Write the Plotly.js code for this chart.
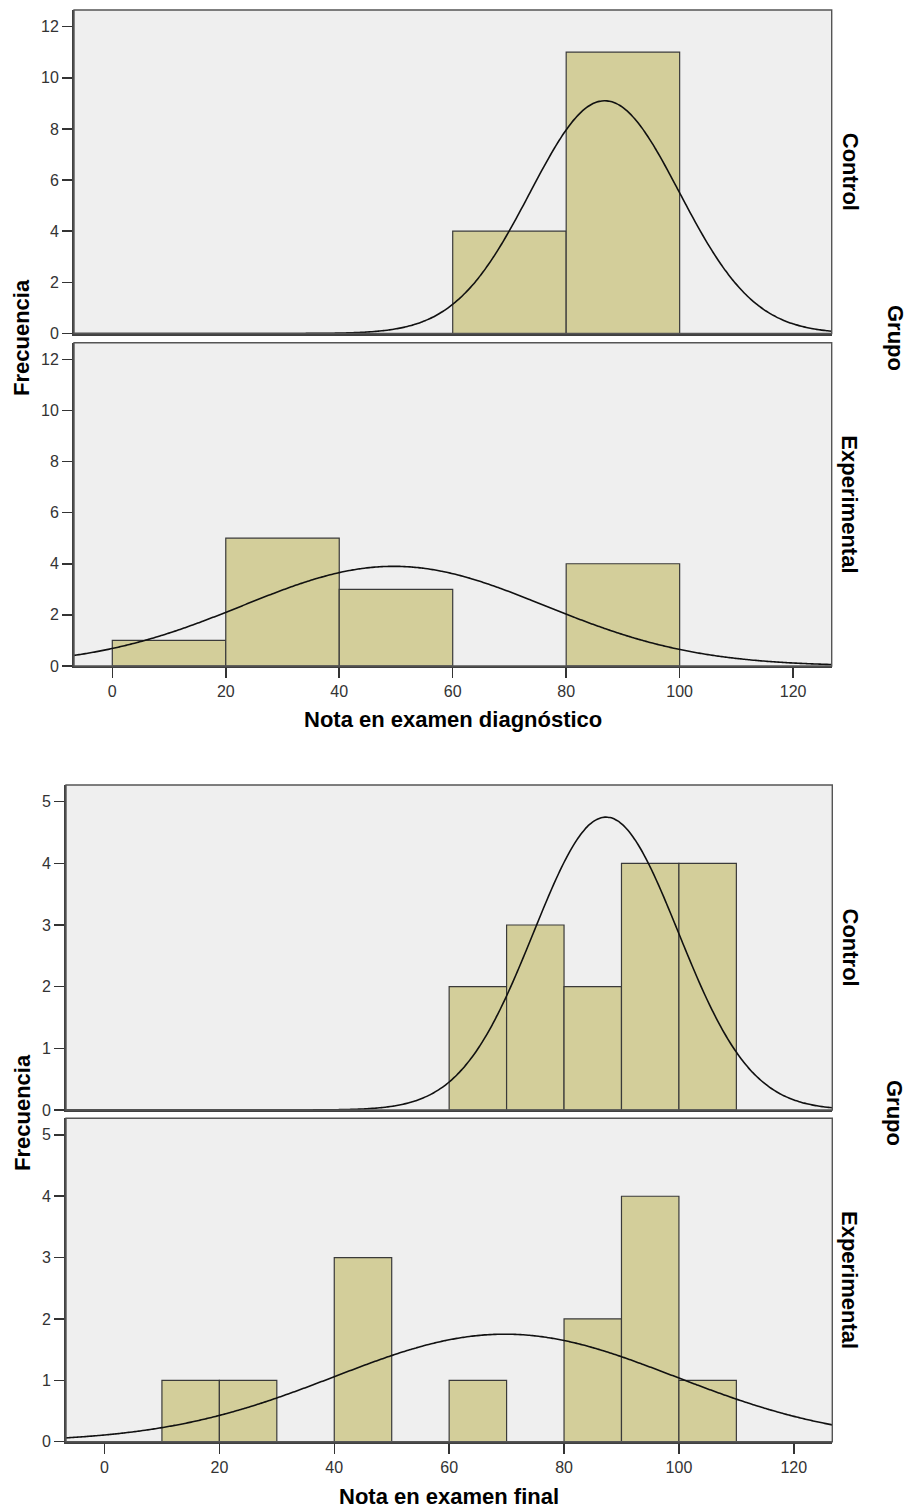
<!DOCTYPE html>
<html>
<head>
<meta charset="utf-8">
<script src="https://cdn.plot.ly/plotly-3.0.1.min.js"></script>
<style>html,body{margin:0;padding:0;background:#fff;}#chart{width:908px;height:1511px;}</style>
</head>
<body>
<div id="chart"></div>
<script>
// ---- Data ----
// Nota en examen diagnóstico (bin width 20)
const diagBinWidth = 20;
const diagControlBinStart = [60, 80];
const diagControlCount = [4, 11];
const diagExpBinStart = [0, 20, 40, 80];
const diagExpCount = [1, 5, 3, 4];
// normal curve parameters [mean, sd, n]
const diagControlNormal = [86.8, 13.15, 15];
const diagExpNormal = [49.6, 26.6, 13];

// Nota en examen final (bin width 10)
const finalBinWidth = 10;
const finalControlBinStart = [60, 70, 80, 90, 100];
const finalControlCount = [2, 3, 2, 4, 4];
const finalExpBinStart = [10, 20, 40, 60, 80, 90, 100];
const finalExpCount = [1, 1, 3, 1, 2, 4, 1];
const finalControlNormal = [87.3, 12.6, 15];
const finalExpNormal = [69.7, 29.6, 13];

const xTickVals = [0, 20, 40, 60, 80, 100, 120];
const diagYTicks = [0, 2, 4, 6, 8, 10, 12];
const finalYTicks = [0, 1, 2, 3, 4, 5];

const groupLabels = ['Control', 'Experimental'];
const yTitle = 'Frecuencia';
const groupTitle = 'Grupo';
const diagTitle = 'Nota en examen diagnóstico';
const finalTitle = 'Nota en examen final';

// ---- Layout geometry (pixels) ----
const W = 908, H = 1511;
const diagXRange = [-6.75, 126.8];
const finalXRange = [-6.7, 126.7];
const diagYRange = [0, 12.65];
const finalYRange = [0, 5.27];

const BAR_FILL = '#d3ce9a';
const EDGE = '#3a3a3a';

function barTrace(starts, counts, w, xa, ya) {
  return {
    type: 'bar', xaxis: xa, yaxis: ya,
    x: starts.map(s => s + w / 2), y: counts,
    width: starts.map(() => w),
    marker: {color: BAR_FILL, line: {color: EDGE, width: 1.2}},
    hoverinfo: 'skip', showlegend: false
  };
}
function curveTrace(p, w, range, xa, ya) {
  const [mu, sd, n] = p;
  const xs = [], ys = [];
  const steps = 300;
  for (let i = 0; i <= steps; i++) {
    const x = range[0] + (range[1] - range[0]) * i / steps;
    xs.push(x);
    ys.push(n * w / (sd * Math.sqrt(2 * Math.PI)) * Math.exp(-0.5 * Math.pow((x - mu) / sd, 2)));
  }
  return {type: 'scatter', mode: 'lines', x: xs, y: ys, xaxis: xa, yaxis: ya,
    line: {color: '#111', width: 1.6, shape: 'spline'}, hoverinfo: 'skip', showlegend: false, cliponaxis: true};
}

const data = [
  barTrace(diagControlBinStart, diagControlCount, diagBinWidth, 'x', 'y'),
  curveTrace(diagControlNormal, diagBinWidth, diagXRange, 'x', 'y'),
  barTrace(diagExpBinStart, diagExpCount, diagBinWidth, 'x2', 'y2'),
  curveTrace(diagExpNormal, diagBinWidth, diagXRange, 'x2', 'y2'),
  barTrace(finalControlBinStart, finalControlCount, finalBinWidth, 'x3', 'y3'),
  curveTrace(finalControlNormal, finalBinWidth, finalXRange, 'x3', 'y3'),
  barTrace(finalExpBinStart, finalExpCount, finalBinWidth, 'x4', 'y4'),
  curveTrace(finalExpNormal, finalBinWidth, finalXRange, 'x4', 'y4')
];

const px = v => v / W;
const py = v => 1 - v / H;
const tickFont = {family: 'Liberation Sans, Arial, sans-serif', size: 16, color: '#333'};
const titleFont = {family: 'Liberation Sans, Arial, sans-serif', size: 22, color: '#000', weight: 'bold'};

function xAxis(dom, range, anchor, showTicks) {
  return {
    domain: dom, range: range, anchor: anchor, fixedrange: true,
    showgrid: false, zeroline: false,
    showline: true, linecolor: '#404040', linewidth: 2,
    tickvals: showTicks ? xTickVals : [], ticktext: showTicks ? xTickVals.map(String) : [],
    ticks: showTicks ? 'outside' : '', ticklen: 10, tickwidth: 1.5, tickcolor: '#333',
    showticklabels: showTicks, tickfont: tickFont
  };
}
function yAxis(dom, range, anchor, ticks) {
  return {
    domain: dom, range: range, anchor: anchor, fixedrange: true,
    showgrid: false, zeroline: false,
    showline: true, linecolor: '#404040', linewidth: 2,
    tickvals: ticks, ticktext: ticks.map(String),
    ticks: 'outside', ticklen: 10, tickwidth: 1.5, tickcolor: '#333',
    tickfont: tickFont
  };
}

const P = {
  p1: {x0: 74, x1: 831.7, y0: 10, y1: 333.5},
  p2: {x0: 74, x1: 831.7, y0: 342.7, y1: 666},
  p3: {x0: 66, x1: 832.3, y0: 785, y1: 1110},
  p4: {x0: 66, x1: 832.3, y0: 1118.3, y1: 1441.7}
};

const layout = {
  width: W, height: H,
  margin: {l: 0, r: 0, t: 0, b: 0},
  paper_bgcolor: '#ffffff', plot_bgcolor: '#efefef',
  barmode: 'overlay', bargap: 0,
  xaxis: xAxis([px(P.p1.x0), px(P.p1.x1)], diagXRange, 'y', false),
  yaxis: yAxis([py(P.p1.y1), py(P.p1.y0)], diagYRange, 'x', diagYTicks),
  xaxis2: xAxis([px(P.p2.x0), px(P.p2.x1)], diagXRange, 'y2', true),
  yaxis2: yAxis([py(P.p2.y1), py(P.p2.y0)], diagYRange, 'x2', diagYTicks),
  xaxis3: xAxis([px(P.p3.x0), px(P.p3.x1)], finalXRange, 'y3', false),
  yaxis3: yAxis([py(P.p3.y1), py(P.p3.y0)], finalYRange, 'x3', finalYTicks),
  xaxis4: xAxis([px(P.p4.x0), px(P.p4.x1)], finalXRange, 'y4', true),
  yaxis4: yAxis([py(P.p4.y1), py(P.p4.y0)], finalYRange, 'x4', finalYTicks),
  shapes: ['', '2', '3', '4'].map(s => ({
    type: 'rect', xref: 'x' + s + ' domain', yref: 'y' + s + ' domain',
    x0: 0, x1: 1, y0: 0, y1: 1, line: {color: '#555', width: 1.4}, layer: 'above'
  })),
  annotations: []
};

function ann(text, xPix, yPix, angle) {
  layout.annotations.push({
    text: text, xref: 'paper', yref: 'paper', x: px(xPix), y: py(yPix),
    xanchor: 'center', yanchor: 'middle', showarrow: false, textangle: angle, font: titleFont
  });
}
// strip labels
ann(groupLabels[0], 850, (P.p1.y0 + P.p1.y1) / 2, 90);
ann(groupLabels[1], 850, (P.p2.y0 + P.p2.y1) / 2, 90);
ann(groupLabels[0], 850, (P.p3.y0 + P.p3.y1) / 2, 90);
ann(groupLabels[1], 850, (P.p4.y0 + P.p4.y1) / 2, 90);
ann(groupTitle, 895, 338, 90);
ann(groupTitle, 895, 1113, 90);
ann(yTitle, 22, 338, -90);
ann(yTitle, 22, 1113, -90);
ann(diagTitle, 453, 720, 0);
ann(finalTitle, 449, 1496, 0);

Plotly.newPlot('chart', data, layout, {staticPlot: true, displayModeBar: false});
</script>
</body>
</html>
